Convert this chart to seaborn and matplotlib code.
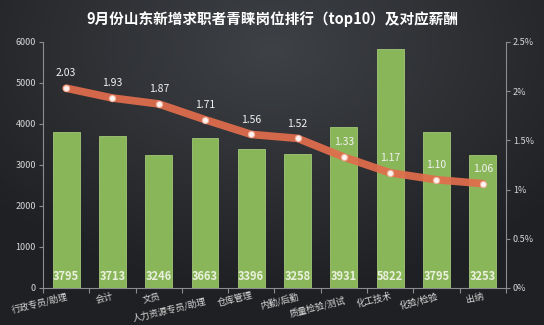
import numpy as np
import pandas as pd
import matplotlib
matplotlib.use("Agg")
import matplotlib.pyplot as plt
from matplotlib.transforms import ScaledTranslation
from matplotlib.ticker import FixedLocator, FuncFormatter
import seaborn as sns

# Data
positions = ["行政专员/助理", "会计", "文员", "人力资源专员/助理", "仓库管理",
             "内勤/后勤", "质量检验/测试", "化工技术", "化验/检验", "出纳"]
salaries = [3795, 3713, 3246, 3663, 3396, 3258, 3931, 5822, 3795, 3253]
demand_share = [2.03, 1.93, 1.87, 1.71, 1.56, 1.52, 1.33, 1.17, 1.10, 1.06]
title = "9月份山东新增求职者青睐岗位排行（top10）及对应薪酬"

sns.set_theme(style="white")
plt.rcParams["font.family"] = ["Noto Sans CJK SC", "DejaVu Sans"]

BAR = "#8ab65a"
LINE = "#e26d4c"
TXT = "#d8d8d8"
SPINE = "#8a8c90"

fig = plt.figure(figsize=(5.44, 3.25), dpi=100)

# dark radial backdrop, lighter toward the top centre
bg = fig.add_axes([0, 0, 1, 1], zorder=-10)
yy, xx = np.mgrid[0:1:325j, 0:1:544j]
r = np.sqrt(((xx - 0.5) / 0.9) ** 2 + ((yy - 0.15) / 1.0) ** 2)
r = np.clip(r / 0.75, 0, 1)
c0 = np.array([0x3e, 0x41, 0x46]) / 255
c1 = np.array([0x1f, 0x20, 0x23]) / 255
img = c0[None, None, :] * (1 - r[..., None]) + c1[None, None, :] * r[..., None]
bg.imshow(img, aspect="auto", extent=[0, 1, 0, 1], origin="upper")
bg.axis("off")

ax = fig.add_axes([0.079, 0.114, 0.851, 0.757])
ax.patch.set_alpha(0)

df = pd.DataFrame({"岗位": positions, "薪酬": salaries, "占比": demand_share})

sns.barplot(data=df, x="岗位", y="薪酬", ax=ax, color=BAR, width=0.58,
            saturation=1, edgecolor="#a2c878", linewidth=0.6, zorder=2)
ax.set_xlim(-0.5, len(positions) - 0.5)
ax.set_ylim(0, 6000)
ax.set_yticks(np.arange(0, 6001, 1000))
ax.set_xlabel("")
ax.set_ylabel("")

# salary labels at the foot of each bar
for i, v in enumerate(salaries):
    ax.text(i, 110, f"{v}", ha="center", va="bottom", fontsize=8,
            fontweight="bold", color="#e9f0dc", zorder=5)

# share line on the right axis
ax2 = ax.twinx()
ax2.set_position(ax.get_position())
idx = np.arange(len(positions))
sns.lineplot(x=idx, y=demand_share, ax=ax2, color=LINE, linewidth=5.5,
             alpha=0.92, solid_capstyle="round", solid_joinstyle="round",
             marker="o", markersize=4.5, markerfacecolor="white",
             markeredgecolor="#f3b09a", markeredgewidth=0.8, zorder=4)
ax2.set_ylim(0, 2.5)
ax2.set_xlim(-0.5, len(positions) - 0.5)
ax2.set_yticks([0, 0.5, 1, 1.5, 2, 2.5])
ax2.yaxis.set_major_formatter(FuncFormatter(lambda v, p: f"{v:g}%"))
for i, v in enumerate(demand_share):
    ax2.text(i, v + 0.1, f"{v:.2f}", ha="center", va="bottom", fontsize=7.5,
             color="#f2f2f2", zorder=6)

# axes styling
for a in (ax, ax2):
    for s in a.spines.values():
        s.set_visible(False)
ax.spines["left"].set_visible(True)
ax.spines["bottom"].set_visible(True)
ax2.spines["right"].set_visible(True)
for s in (ax.spines["left"], ax.spines["bottom"], ax2.spines["right"]):
    s.set_color(SPINE)
    s.set_linewidth(0.8)

ax.tick_params(axis="y", left=True, length=3, width=0.8, color=SPINE,
               labelsize=6.5, labelcolor=TXT, pad=2)
ax2.tick_params(axis="y", right=True, length=3, width=0.8, color=SPINE,
                labelsize=6.5, labelcolor=TXT, pad=2)

# category boundaries carry the tick marks; names sit at the centres
ax.xaxis.set_minor_locator(FixedLocator(np.arange(-0.5, len(positions), 1.0)))
ax.tick_params(axis="x", which="minor", bottom=True, length=3.5, width=0.8,
               color=SPINE)
ax.tick_params(axis="x", which="major", bottom=True, length=0, pad=2.5,
               labelsize=6.5, labelcolor=TXT)
ax.set_xticks(idx)
ax.set_xticklabels(positions, rotation=14, ha="right", rotation_mode="anchor")
ax.set_xlim(-0.5, len(positions) - 0.5)
for k in (3, 6):
    lab = ax.get_xticklabels()[k]
    lab.set_transform(lab.get_transform()
                      + ScaledTranslation(0, -3 / 72, fig.dpi_scale_trans))
ax.xaxis.set_zorder(1)

fig.text(0.5, 0.943, title, ha="center", va="center", fontsize=10.5,
         fontweight="bold", color="white")

fig.savefig("out.png", dpi=100, facecolor="#2a2c30")
